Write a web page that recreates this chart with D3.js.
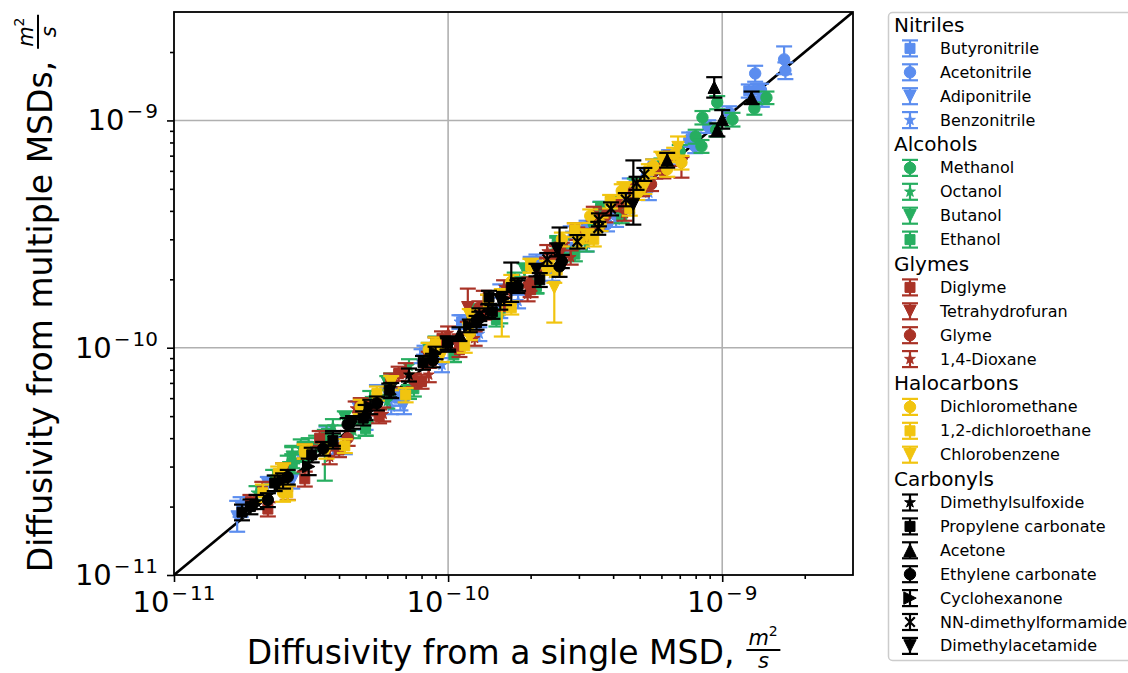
<!DOCTYPE html>
<html>
<head>
<meta charset="utf-8">
<script src="https://cdn.jsdelivr.net/npm/d3@7"></script>
<style>
  body { margin: 0; background: #fff; }
  text { font-family: "DejaVu Sans", sans-serif; }
</style>
</head>
<body>
<svg id="chart" width="1128" height="673"></svg>
<script>
// Diffusion coefficients in units of 1e-10 m^2/s.
// Each point: [single-MSD value, multiple-MSD value, error below, error above]
const butyronitrile = [[0.36,0.42,0.03,0.03],[0.5,0.47,0.035,0.035],[0.66,0.6,0.045,0.045],[0.82,0.95,0.07,0.07],[1.12,1.3,0.09,0.09],[1.55,1.45,0.1,0.1],[2.1,2.4,0.17,0.17],[2.8,2.7,0.19,0.19],[3.6,4.1,0.28,0.28],[4.5,4.2,0.3,0.3],[5.6,6.3,0.45,0.45],[7.9,8.3,0.55,0.55],[12.5,13.5,0.9,0.9],[13.5,13.6,0.9,0.9]];
const acetonitrile = [[3.2,3.4,0.22,0.22],[3.8,3.5,0.25,0.25],[4.4,4.6,0.3,0.3],[5.3,5.7,0.4,0.4],[6.4,6.9,0.5,0.5],[7.58,8.25,0.6,0.6],[7.97,7.68,0.5,0.5],[8.89,9.41,0.6,0.6],[10.6,10.84,0.7,0.7],[13.19,16.1,1.3,1.3],[13.95,12.38,0.9,0.9],[13.85,13.6,0.9,0.9],[16.82,18.57,2.6,2.6],[17.0,16.6,1.4,1.4]];
const adiponitrile = [[0.17,0.18,0.025,0.032],[0.175,0.2,0.02,0.02],[0.22,0.25,0.02,0.02],[0.27,0.26,0.02,0.02],[0.3,0.34,0.025,0.025],[0.38,0.37,0.03,0.03],[0.47,0.54,0.04,0.04],[0.6,0.63,0.05,0.04],[0.67,0.61,0.08,0.05],[0.69,0.56,0.05,0.05]];
const benzonitrile = [[0.3,0.36,0.025,0.025],[0.42,0.37,0.03,0.03],[0.55,0.64,0.045,0.045],[0.62,0.55,0.04,0.04],[0.8,0.92,0.065,0.065],[0.95,0.84,0.06,0.06],[1.1,1.3,0.09,0.09],[1.3,1.15,0.08,0.08],[1.55,1.78,0.12,0.12],[1.8,1.6,0.11,0.11],[2.0,2.35,0.16,0.16],[2.4,2.12,0.15,0.15],[2.8,3.2,0.22,0.22],[3.2,2.85,0.2,0.2],[3.6,4.1,0.28,0.28],[4.1,3.65,0.25,0.25],[4.6,5.2,0.36,0.36],[5.4,4.8,0.34,0.34]];

const methanol = [[2.6,2.8,0.2,0.2],[3.4,3.5,0.25,0.25],[4.0,4.3,0.3,0.3],[4.8,5.2,0.35,0.35],[6.0,6.4,0.4,0.4],[7.0,7.3,0.5,0.5],[8.0,8.5,0.6,0.6],[8.4,7.7,0.5,0.5],[8.47,10.3,0.7,0.7],[9.5,9.1,0.6,0.6],[9.59,12.0,0.8,0.8],[10.9,10.1,0.7,0.7],[13.1,11.3,0.7,0.7],[14.5,12.6,0.8,0.8]];
const octanol = [[0.2,0.23,0.016,0.016],[0.23,0.27,0.02,0.02],[0.26,0.31,0.025,0.025],[0.27,0.34,0.03,0.03],[0.29,0.36,0.035,0.035],[0.31,0.37,0.03,0.03],[0.33,0.38,0.03,0.03],[0.38,0.45,0.035,0.035],[0.45,0.43,0.03,0.03],[0.52,0.6,0.045,0.045],[0.6,0.58,0.04,0.04],[0.72,0.83,0.06,0.06]];
const butanol = [[0.24,0.27,0.02,0.02],[0.27,0.33,0.035,0.035],[0.3,0.35,0.03,0.03],[0.355,0.37,0.11,0.065],[0.42,0.49,0.035,0.035],[0.5,0.44,0.03,0.03],[0.6,0.7,0.05,0.05],[0.72,0.64,0.045,0.045],[0.85,0.98,0.07,0.07],[1.05,0.93,0.065,0.065],[1.25,1.45,0.1,0.1],[1.55,1.38,0.1,0.1],[1.9,2.2,0.15,0.15],[2.1,1.87,0.13,0.13],[2.5,2.9,0.2,0.2],[3.2,2.85,0.2,0.2]];
const ethanol = [[0.27,0.31,0.03,0.03],[0.3,0.35,0.035,0.035],[0.36,0.42,0.035,0.035],[0.5,0.44,0.03,0.03],[0.62,0.72,0.05,0.05],[0.75,0.66,0.05,0.05],[0.9,1.05,0.07,0.07],[1.05,0.93,0.065,0.065],[1.25,1.45,0.1,0.1],[1.5,1.33,0.09,0.09],[1.75,2.0,0.14,0.14],[2.1,1.86,0.13,0.13],[2.5,2.85,0.2,0.2],[2.9,2.58,0.18,0.18],[3.6,4.1,0.28,0.28],[4.3,3.8,0.27,0.27]];

const diglyme = [[0.19,0.21,0.015,0.015],[0.22,0.195,0.014,0.014],[0.25,0.29,0.02,0.02],[0.3,0.265,0.02,0.02],[0.34,0.4,0.03,0.03],[0.4,0.355,0.025,0.025],[0.48,0.56,0.04,0.04],[0.56,0.5,0.035,0.035],[0.66,0.77,0.055,0.055],[0.8,0.71,0.05,0.05],[0.95,1.1,0.08,0.08],[1.1,0.98,0.07,0.07],[1.4,1.6,0.11,0.11],[2.0,1.8,0.13,0.13],[2.9,3.3,0.23,0.23]];
const tetrahydrofuran = [[0.85,0.9,0.06,0.06],[1.18,1.5,0.2,0.32],[1.35,1.48,0.15,0.3],[2.6,2.7,0.2,0.2],[3.5,3.6,0.25,0.25],[4.6,4.9,0.35,0.35],[5.7,6.0,0.45,0.45],[6.5,6.8,0.5,0.5],[7.1,6.4,0.8,0.5]];
const glyme = [[0.43,0.4,0.03,0.03],[0.505,0.544,0.04,0.04],[0.62,0.72,0.05,0.05],[0.75,0.72,0.05,0.05],[0.9,1.04,0.07,0.07],[1.1,1.07,0.075,0.075],[1.3,1.5,0.1,0.1],[1.6,1.56,0.11,0.11],[1.98,1.91,0.13,0.13],[2.3,2.34,0.15,0.15],[2.5,2.63,0.17,0.17],[2.96,3.18,0.2,0.2],[3.15,3.13,0.2,0.2],[3.75,3.81,0.25,0.25],[4.2,4.27,0.28,0.28],[5.1,4.97,0.33,0.33],[5.5,5.24,0.35,0.35],[6.1,5.96,0.4,0.4],[6.2,6.8,0.45,0.45]];
const dioxane = [[0.21,0.24,0.017,0.017],[0.26,0.23,0.016,0.016],[0.3,0.35,0.025,0.025],[0.37,0.33,0.023,0.023],[0.46,0.54,0.04,0.04],[0.58,0.51,0.036,0.036],[0.7,0.8,0.055,0.055],[0.85,0.76,0.055,0.055],[1.0,1.16,0.08,0.08],[1.25,1.1,0.08,0.08],[1.6,1.85,0.13,0.13],[1.95,1.72,0.12,0.12],[2.3,2.65,0.18,0.18],[2.8,2.5,0.18,0.18],[3.4,3.9,0.27,0.27],[4.4,3.9,0.28,0.28]];

const dichloromethane = [[0.25,0.23,0.02,0.02],[0.3,0.35,0.025,0.025],[0.48,0.55,0.04,0.04],[0.85,0.98,0.07,0.07],[1.2,1.16,0.08,0.08],[1.7,1.95,0.14,0.14],[2.3,2.25,0.16,0.16],[2.6,3.0,0.21,0.21],[3.0,2.95,0.2,0.2],[3.3,3.8,0.26,0.26],[3.6,3.5,0.24,0.24],[4.3,4.9,0.34,0.34],[4.9,4.8,0.33,0.33],[5.6,6.3,0.44,0.44],[6.3,6.1,0.45,0.45],[6.68,7.08,0.5,0.5],[7.1,6.53,0.45,0.45]];
const dichloroethane = [[0.211,0.23,0.02,0.02],[0.24,0.28,0.02,0.02],[0.26,0.23,0.017,0.017],[0.3,0.35,0.025,0.025],[0.42,0.37,0.026,0.026],[0.55,0.63,0.045,0.045],[0.7,0.62,0.045,0.045],[0.9,1.04,0.07,0.07],[1.15,1.02,0.07,0.07],[1.4,1.6,0.11,0.11],[1.7,1.5,0.1,0.1],[2.0,2.3,0.16,0.16],[2.5,2.2,0.15,0.15],[2.9,3.3,0.23,0.23],[3.4,3.0,0.21,0.21],[3.9,4.4,0.3,0.3],[4.6,4.1,0.29,0.29],[5.4,6.0,0.42,0.42]];
const chlorobenzene = [[0.25,0.29,0.02,0.02],[0.36,0.35,0.025,0.025],[0.62,0.7,0.05,0.05],[0.95,0.93,0.065,0.065],[1.2,1.38,0.1,0.1],[1.57,1.71,0.59,0.1],[2.0,2.3,0.16,0.16],[2.44,1.84,0.55,0.09],[3.2,3.1,0.22,0.22],[4.4,5.0,0.35,0.35],[5.2,5.1,0.35,0.35],[6.0,6.8,0.48,0.48],[6.9,7.6,0.6,0.9]];

const dimethylsulfoxide = [[0.2,0.21,0.015,0.015],[0.38,0.4,0.03,0.03],[0.72,0.76,0.05,0.05],[1.0,1.03,0.07,0.07],[1.4,1.45,0.1,0.1]];
const propyleneCarbonate = [[0.177,0.189,0.015,0.015],[0.19,0.2,0.015,0.015],[0.233,0.254,0.02,0.02],[0.318,0.338,0.025,0.025],[0.38,0.39,0.03,0.03],[0.49,0.49,0.035,0.035],[0.61,0.65,0.045,0.045],[0.81,0.86,0.06,0.06],[0.995,1.05,0.07,0.07],[1.27,1.29,0.09,0.09],[1.41,1.67,0.11,0.11],[1.45,1.44,0.1,0.1],[1.7,1.84,0.25,0.53],[2.16,1.99,0.14,0.14]];
const acetone = [[0.5,0.52,0.04,0.04],[1.1,1.15,0.08,0.08],[6.3,6.7,0.5,0.5],[9.35,14.0,1.4,1.5],[9.6,9.1,0.6,0.6],[10.0,10.1,0.9,1.0],[12.8,12.6,0.8,0.8]];
const ethyleneCarbonate = [[0.22,0.214,0.015,0.015],[0.26,0.27,0.02,0.02],[0.35,0.36,0.025,0.025],[0.43,0.46,0.03,0.03],[0.55,0.57,0.04,0.04],[0.88,0.88,0.06,0.06],[1.3,1.35,0.09,0.09],[1.79,1.86,0.12,0.12],[2.55,2.28,0.23,1.1],[2.6,2.4,0.16,0.16]];
const cyclohexanone = [[0.25,0.26,0.02,0.02],[0.31,0.3,0.025,0.025],[0.52,0.55,0.04,0.04],[0.9,0.95,0.06,0.06],[1.2,1.25,0.08,0.08],[1.6,1.65,0.11,0.11]];
const dimethylformamide = [[0.62,0.65,0.05,0.05],[1.3,1.4,0.09,0.09],[1.8,1.9,0.12,0.12],[2.3,2.45,0.16,0.16],[2.96,2.93,0.2,0.2],[3.53,3.36,0.22,0.22],[3.55,3.66,0.24,0.24],[3.93,4.09,0.27,0.27],[4.45,4.49,0.3,0.3],[4.87,5.3,0.35,0.35],[5.2,5.8,0.38,0.38]];
const dimethylacetamide = [[0.45,0.47,0.03,0.03],[1.0,1.05,0.07,0.07],[1.55,1.62,0.15,0.1],[2.1,2.2,0.14,0.14],[2.5,2.7,0.18,0.18],[4.74,4.27,0.79,2.4]];

const UNIT = 1e-10;
const groupNames = ["Nitriles", "Alcohols", "Glymes", "Halocarbons", "Carbonyls"];
const solventNames = [
  ["Butyronitrile", "Acetonitrile", "Adiponitrile", "Benzonitrile"],
  ["Methanol", "Octanol", "Butanol", "Ethanol"],
  ["Diglyme", "Tetrahydrofuran", "Glyme", "1,4-Dioxane"],
  ["Dichloromethane", "1,2-dichloroethane", "Chlorobenzene"],
  ["Dimethylsulfoxide", "Propylene carbonate", "Acetone", "Ethylene carbonate", "Cyclohexanone", "NN-dimethylformamide", "Dimethylacetamide"]
];
const solventData = [
  [butyronitrile, acetonitrile, adiponitrile, benzonitrile],
  [methanol, octanol, butanol, ethanol],
  [diglyme, tetrahydrofuran, glyme, dioxane],
  [dichloromethane, dichloroethane, chlorobenzene],
  [dimethylsulfoxide, propyleneCarbonate, acetone, ethyleneCarbonate, cyclohexanone, dimethylformamide, dimethylacetamide]
];
const majorTicks = [1e-11, 1e-10, 1e-9];
const majorTickExponents = ["11", "10", "9"];

// Styling
const groupColors = ["#5b8def", "#27ae60", "#a93226", "#f1c40f", "#000000"];
const solventMarkers = [
  ["s", "o", "v", "*"],
  ["o", "*", "v", "s"],
  ["s", "v", "o", "*"],
  ["o", "s", "v"],
  ["*", "s", "^", "o", ">", "x", "v"]
];

const svg = d3.select("#chart");
const plot = { left: 174, right: 853, top: 12, bottom: 575 };

const x = d3.scaleLog().domain([1e-11, 3e-9]).range([plot.left, plot.right]);
const y = d3.scaleLog().domain([1e-11, 3e-9]).range([plot.bottom, plot.top]);

// Marker shapes in the style of matplotlib markers
function markerPath(m) {
  const t = 6.2;
  switch (m) {
    case "o": return d3.symbol(d3.symbolCircle, Math.PI * 5.7 * 5.7)();
    case "s": return "M-5,-5H5V5H-5Z";
    case "v": return `M0,${t}L${-t},${-t}L${t},${-t}Z`;
    case "^": return `M0,${-t}L${-t},${t}L${t},${t}Z`;
    case ">": return `M${t},0L${-t},${-t}L${-t},${t}Z`;
    case "*": return d3.symbol(d3.symbolStar, 36)();
    case "x": return "M-4.8,-4.8L4.8,4.8M-4.8,4.8L4.8,-4.8";
  }
}

// Grid
const gridG = svg.append("g");
majorTicks.slice(1).forEach(v => {
  gridG.append("line").attr("x1", x(v)).attr("x2", x(v)).attr("y1", plot.top).attr("y2", plot.bottom)
    .attr("stroke", "#b0b0b0").attr("stroke-width", 1.6);
  gridG.append("line").attr("y1", y(v)).attr("y2", y(v)).attr("x1", plot.left).attr("x2", plot.right)
    .attr("stroke", "#b0b0b0").attr("stroke-width", 1.6);
});

// Parity line
svg.append("clipPath").attr("id", "plotClip").append("rect")
  .attr("x", plot.left).attr("y", plot.top).attr("width", plot.right - plot.left).attr("height", plot.bottom - plot.top);
svg.append("line").attr("clip-path", "url(#plotClip)")
  .attr("x1", x(1e-11)).attr("y1", y(1e-11)).attr("x2", x(3e-9)).attr("y2", y(3e-9))
  .attr("stroke", "#000").attr("stroke-width", 2.6);

// Error bars and markers, one series after another
const capHalf = 8;
function drawErrorbar(g, color, marker, px, py, pyLo, pyHi) {
  g.append("line").attr("x1", px).attr("x2", px).attr("y1", pyLo).attr("y2", pyHi)
    .attr("stroke", color).attr("stroke-width", 2.2);
  [pyLo, pyHi].forEach(cy => g.append("line")
    .attr("x1", px - capHalf).attr("x2", px + capHalf).attr("y1", cy).attr("y2", cy)
    .attr("stroke", color).attr("stroke-width", 2.2));
  const mk = g.append("path").attr("d", markerPath(marker)).attr("transform", `translate(${px},${py})`);
  if (marker === "x") mk.attr("fill", "none").attr("stroke", color).attr("stroke-width", 2.2);
  else mk.attr("fill", color).attr("stroke", color).attr("stroke-width", 1);
}

const pointsG = svg.append("g");
solventData.forEach((grp, gi) => {
  grp.forEach((series, si) => {
    const g = pointsG.append("g");
    series.forEach(d => {
      drawErrorbar(g, groupColors[gi], solventMarkers[gi][si],
        x(d[0] * UNIT), y(d[1] * UNIT), y((d[1] - d[2]) * UNIT), y((d[1] + d[3]) * UNIT));
    });
  });
});

// Axes
const minorTicks = [];
[1e-11, 1e-10, 1e-9].forEach(base => {
  [2, 3, 4, 5, 6, 7, 8, 9].forEach(k => { if (base * k <= 3e-9) minorTicks.push(base * k); });
});

const xAxisG = svg.append("g").attr("transform", `translate(0,${plot.bottom})`);
xAxisG.call(d3.axisBottom(x).tickValues(majorTicks).tickFormat("").tickSize(7).tickSizeOuter(0));
xAxisG.append("g").call(d3.axisBottom(x).tickValues(minorTicks).tickFormat("").tickSize(4).tickSizeOuter(0));
const yAxisG = svg.append("g").attr("transform", `translate(${plot.left},0)`);
yAxisG.call(d3.axisLeft(y).tickValues(majorTicks).tickFormat("").tickSize(7).tickSizeOuter(0));
yAxisG.append("g").call(d3.axisLeft(y).tickValues(minorTicks).tickFormat("").tickSize(4).tickSizeOuter(0));
svg.selectAll(".domain").remove();
svg.selectAll(".tick line").attr("stroke", "#000").attr("stroke-width", 1.6);

// Frame
svg.append("rect").attr("x", plot.left).attr("y", plot.top)
  .attr("width", plot.right - plot.left).attr("height", plot.bottom - plot.top)
  .attr("fill", "none").attr("stroke", "#000").attr("stroke-width", 1.8);

// Tick labels as powers of ten, placed by their measured width
function powerLabel(px, py, align, exp) {
  const t = svg.append("text").attr("x", 0).attr("y", py).attr("fill", "#000");
  t.append("tspan").text("10").attr("font-size", 29);
  t.append("tspan").text("−").attr("font-size", 20).attr("dy", -12).attr("dx", 2);
  t.append("tspan").text(exp).attr("font-size", 20).attr("dx", 2);
  const w = t.node().getBBox().width;
  t.attr("x", align === "end" ? px - w : px - w / 2);
}
majorTicks.forEach((v, i) => {
  powerLabel(x(v), plot.bottom + 37, "middle", majorTickExponents[i]);
  powerLabel(plot.left - 16, y(v) + 10, "end", majorTickExponents[i]);
});

// Axis titles with a m^2/s fraction
function axisTitle(g, label, size) {
  const t = g.append("text").attr("x", 0).attr("y", 0).attr("font-size", size).attr("fill", "#000").text(label);
  const w = t.node().getComputedTextLength();
  const fx = w + 12, fw = 34;
  const num = g.append("text").attr("x", fx + 2).attr("y", -19).attr("fill", "#000");
  num.append("tspan").text("m").attr("font-size", 21).attr("font-style", "italic");
  num.append("tspan").text("2").attr("font-size", 14).attr("dy", -9);
  g.append("line").attr("x1", fx).attr("x2", fx + fw).attr("y1", -14).attr("y2", -14)
    .attr("stroke", "#000").attr("stroke-width", 2);
  g.append("text").attr("x", fx + fw / 2).attr("y", 4).attr("text-anchor", "middle")
    .attr("font-size", 21).attr("font-style", "italic").attr("fill", "#000").text("s");
  return fx + fw;
}
const cx = (plot.left + plot.right) / 2, cy = (plot.top + plot.bottom) / 2;
const xTitle = svg.append("g");
const xw = axisTitle(xTitle, "Diffusivity from a single MSD,", 33);
xTitle.attr("transform", `translate(${cx - xw / 2},664)`);
const yTitle = svg.append("g");
const yw = axisTitle(yTitle, "Diffusivity from multiple MSDs,", 33);
yTitle.attr("transform", `translate(52,${cy}) rotate(-90) translate(${-yw / 2},0)`);

// Legend
const legend = svg.append("g");
legend.append("rect").attr("x", 888.5).attr("y", 12.5).attr("width", 260).attr("height", 648)
  .attr("rx", 4).attr("fill", "#fff").attr("fill-opacity", 0.8).attr("stroke", "#cccccc").attr("stroke-width", 1.5);
let row = 0;
const rowY = r => 24.5 + r * 23.9;
solventNames.forEach((names, gi) => {
  legend.append("text").attr("x", 894).attr("y", rowY(row) + 7).attr("font-size", 20).attr("fill", "#000")
    .text(groupNames[gi]);
  row++;
  names.forEach((name, si) => {
    const yy = rowY(row);
    drawErrorbar(legend.append("g"), groupColors[gi], solventMarkers[gi][si], 910, yy, yy + 8, yy - 8);
    legend.append("text").attr("x", 940).attr("y", yy + 5.5).attr("font-size", 16).attr("fill", "#000").text(name);
    row++;
  });
});
</script>
</body>
</html>
